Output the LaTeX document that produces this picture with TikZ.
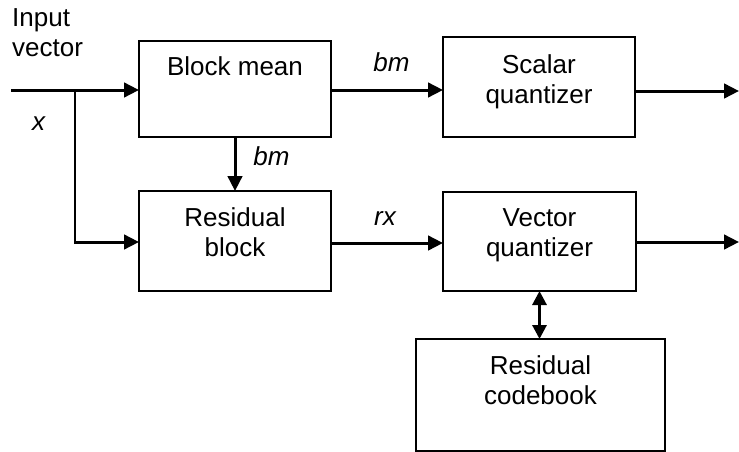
\documentclass[tikz,border=0pt]{standalone}
\usepackage{fontspec}
\setmainfont{Liberation Sans}
\usetikzlibrary{arrows.meta,calc}
\begin{document}
\begin{tikzpicture}[x=1pt,y=-1pt,
  box/.style={draw, line width=2pt, rectangle, inner sep=0pt, outer sep=0pt},
  txt/.style={font=\fontsize{26}{30}\selectfont, align=center, anchor=base, inner sep=0pt},
  lab/.style={font=\fontsize{26}{30}\selectfont\itshape, anchor=base, inner sep=0pt},
  flow/.style={line width=3pt, -{Triangle[length=15pt,width=14.5pt]}},
  both/.style={line width=3pt, {Triangle[length=14pt,width=14pt]}-{Triangle[length=14pt,width=14pt]}},
]
\useasboundingbox (0,0) rectangle (739,452);

% processing blocks
\node[box, minimum width=192pt, minimum height=96pt]  (bmean) at (235,89) {};
\node[box, minimum width=192pt, minimum height=100pt] (scal)  at (539,87) {};
\node[box, minimum width=192pt, minimum height=100pt] (resb)  at (235,241) {};
\node[box, minimum width=193pt, minimum height=99pt]  (vq)    at (539.5,241.5) {};
\node[box, minimum width=249pt, minimum height=112pt] (cb)    at (540.5,395) {};

% block captions (base anchor sits on the last line)
\node[txt] (bmeant) at ($(bmean.north)+(0,35)$)   {Block mean};
\node[txt] (scalt)  at ($(scal.north)+(0,66)$)    {Scalar\\quantizer};
\node[txt] (resbt)  at ($(resb.north)+(0,65.5)$)  {Residual\\block};
\node[txt] (vqt)    at ($(vq.north)+(0,64)$)      {Vector\\quantizer};
\node[txt] (cbt)    at ($(cb.north)+(0,65)$)      {Residual\\codebook};

% free ends and branch points
\coordinate (in)   at (11,90);
\coordinate (br)   at (75,90);
\coordinate (brd)  at (75,242);
\coordinate (sout) at (739,91);
\coordinate (vout) at (739,242);

% connectors
\draw[flow] (in) -- (in -| bmean.west);
\draw[line width=2pt] (br) -- (brd);
\draw[flow] ($(brd)+(-1,0)$) -- (brd -| resb.west);
\draw[flow] (bmean.east |- 0,90) -- (scal.west |- 0,90);
\draw[flow] (scal.east |- sout) -- (sout);
\draw[flow] (bmean.south) -- (resb.north);
\draw[flow] (resb.east |- 0,243) -- (vq.west |- 0,243);
\draw[flow] (vq.east |- vout) -- (vout);
\draw[both] (vq.south) -- (vq.south |- cb.north);

% signal labels
\node[font=\fontsize{26}{30}\selectfont, align=left, anchor=base west, inner sep=0pt] (inlab) at (12,57) {Input\\vector};
\node[lab, anchor=base west] (xlab) at (32,130) {x};
\node[lab] (bmlab1) at (391.5,72) {bm};
\node[lab] (bmlab2) at (271.5,165) {bm};
\node[lab] (rxlab)  at (385,225) {rx};
\end{tikzpicture}
\end{document}
